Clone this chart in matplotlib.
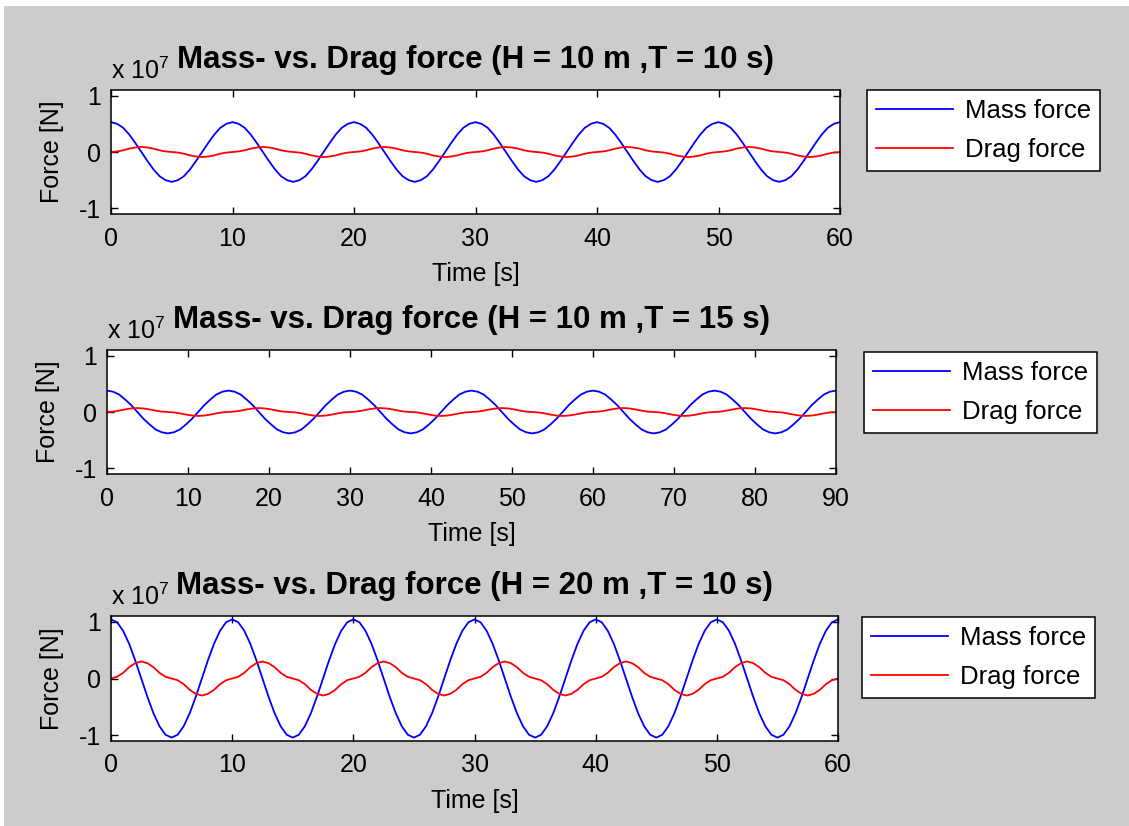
import numpy as np
import matplotlib
matplotlib.use("Agg")
import matplotlib.pyplot as plt
from matplotlib.patches import Rectangle

plt.rcParams["font.family"] = ["Liberation Sans", "DejaVu Sans"]
plt.rcParams["mathtext.fontset"] = "custom"
plt.rcParams["mathtext.rm"] = "Liberation Sans"
plt.rcParams["axes.unicode_minus"] = False

# forces in units of 1e7 N
time1 = np.linspace(0, 60, 121)
mass1 = [
    0.53, 0.50, 0.43, 0.31, 0.16, 0.00, -0.16, -0.31, -0.43, -0.50, -0.53, -0.50, -0.43, -0.31, -0.16, 0.00, 0.16, 0.31, 0.43, 0.50,
    0.53, 0.50, 0.43, 0.31, 0.16, 0.00, -0.16, -0.31, -0.43, -0.50, -0.53, -0.50, -0.43, -0.31, -0.16, 0.00, 0.16, 0.31, 0.43, 0.50,
    0.53, 0.50, 0.43, 0.31, 0.16, 0.00, -0.16, -0.31, -0.43, -0.50, -0.53, -0.50, -0.43, -0.31, -0.16, 0.00, 0.16, 0.31, 0.43, 0.50,
    0.53, 0.50, 0.43, 0.31, 0.16, 0.00, -0.16, -0.31, -0.43, -0.50, -0.53, -0.50, -0.43, -0.31, -0.16, 0.00, 0.16, 0.31, 0.43, 0.50,
    0.53, 0.50, 0.43, 0.31, 0.16, 0.00, -0.16, -0.31, -0.43, -0.50, -0.53, -0.50, -0.43, -0.31, -0.16, 0.00, 0.16, 0.31, 0.43, 0.50,
    0.53, 0.50, 0.43, 0.31, 0.16, 0.00, -0.16, -0.31, -0.43, -0.50, -0.53, -0.50, -0.43, -0.31, -0.16, 0.00, 0.16, 0.31, 0.43, 0.50,
    0.53]
drag1 = [
    0.00, 0.01, 0.03, 0.06, 0.08, 0.09, 0.08, 0.06, 0.03, 0.01, 0.00, -0.01, -0.03, -0.06, -0.08, -0.09, -0.08, -0.06, -0.03, -0.01,
    0.00, 0.01, 0.03, 0.06, 0.08, 0.09, 0.08, 0.06, 0.03, 0.01, 0.00, -0.01, -0.03, -0.06, -0.08, -0.09, -0.08, -0.06, -0.03, -0.01,
    0.00, 0.01, 0.03, 0.06, 0.08, 0.09, 0.08, 0.06, 0.03, 0.01, 0.00, -0.01, -0.03, -0.06, -0.08, -0.09, -0.08, -0.06, -0.03, -0.01,
    0.00, 0.01, 0.03, 0.06, 0.08, 0.09, 0.08, 0.06, 0.03, 0.01, 0.00, -0.01, -0.03, -0.06, -0.08, -0.09, -0.08, -0.06, -0.03, -0.01,
    0.00, 0.01, 0.03, 0.06, 0.08, 0.09, 0.08, 0.06, 0.03, 0.01, 0.00, -0.01, -0.03, -0.06, -0.08, -0.09, -0.08, -0.06, -0.03, -0.01,
    0.00, 0.01, 0.03, 0.06, 0.08, 0.09, 0.08, 0.06, 0.03, 0.01, 0.00, -0.01, -0.03, -0.06, -0.08, -0.09, -0.08, -0.06, -0.03, -0.01,
    0.00]

time2 = np.linspace(0, 90, 121)
mass2 = [
    0.38, 0.36, 0.31, 0.22, 0.12, 0.00, -0.12, -0.22, -0.31, -0.36, -0.38, -0.36, -0.31, -0.22, -0.12, 0.00, 0.12, 0.22, 0.31, 0.36,
    0.38, 0.36, 0.31, 0.22, 0.12, 0.00, -0.12, -0.22, -0.31, -0.36, -0.38, -0.36, -0.31, -0.22, -0.12, 0.00, 0.12, 0.22, 0.31, 0.36,
    0.38, 0.36, 0.31, 0.22, 0.12, 0.00, -0.12, -0.22, -0.31, -0.36, -0.38, -0.36, -0.31, -0.22, -0.12, 0.00, 0.12, 0.22, 0.31, 0.36,
    0.38, 0.36, 0.31, 0.22, 0.12, 0.00, -0.12, -0.22, -0.31, -0.36, -0.38, -0.36, -0.31, -0.22, -0.12, 0.00, 0.12, 0.22, 0.31, 0.36,
    0.38, 0.36, 0.31, 0.22, 0.12, 0.00, -0.12, -0.22, -0.31, -0.36, -0.38, -0.36, -0.31, -0.22, -0.12, 0.00, 0.12, 0.22, 0.31, 0.36,
    0.38, 0.36, 0.31, 0.22, 0.12, 0.00, -0.12, -0.22, -0.31, -0.36, -0.38, -0.36, -0.31, -0.22, -0.12, 0.00, 0.12, 0.22, 0.31, 0.36,
    0.38]
drag2 = [
    0.000, 0.007, 0.024, 0.046, 0.063, 0.070, 0.063, 0.046, 0.024, 0.007, 0.000, -0.007, -0.024, -0.046, -0.063, -0.070, -0.063, -0.046, -0.024, -0.007,
    0.000, 0.007, 0.024, 0.046, 0.063, 0.070, 0.063, 0.046, 0.024, 0.007, 0.000, -0.007, -0.024, -0.046, -0.063, -0.070, -0.063, -0.046, -0.024, -0.007,
    0.000, 0.007, 0.024, 0.046, 0.063, 0.070, 0.063, 0.046, 0.024, 0.007, 0.000, -0.007, -0.024, -0.046, -0.063, -0.070, -0.063, -0.046, -0.024, -0.007,
    0.000, 0.007, 0.024, 0.046, 0.063, 0.070, 0.063, 0.046, 0.024, 0.007, 0.000, -0.007, -0.024, -0.046, -0.063, -0.070, -0.063, -0.046, -0.024, -0.007,
    0.000, 0.007, 0.024, 0.046, 0.063, 0.070, 0.063, 0.046, 0.024, 0.007, 0.000, -0.007, -0.024, -0.046, -0.063, -0.070, -0.063, -0.046, -0.024, -0.007,
    0.000, 0.007, 0.024, 0.046, 0.063, 0.070, 0.063, 0.046, 0.024, 0.007, 0.000, -0.007, -0.024, -0.046, -0.063, -0.070, -0.063, -0.046, -0.024, -0.007,
    0.000]

time3 = np.linspace(0, 60, 121)
mass3 = [
    1.04, 0.99, 0.84, 0.61, 0.32, 0.00, -0.32, -0.61, -0.84, -0.99, -1.04, -0.99, -0.84, -0.61, -0.32, 0.00, 0.32, 0.61, 0.84, 0.99,
    1.04, 0.99, 0.84, 0.61, 0.32, 0.00, -0.32, -0.61, -0.84, -0.99, -1.04, -0.99, -0.84, -0.61, -0.32, 0.00, 0.32, 0.61, 0.84, 0.99,
    1.04, 0.99, 0.84, 0.61, 0.32, 0.00, -0.32, -0.61, -0.84, -0.99, -1.04, -0.99, -0.84, -0.61, -0.32, 0.00, 0.32, 0.61, 0.84, 0.99,
    1.04, 0.99, 0.84, 0.61, 0.32, 0.00, -0.32, -0.61, -0.84, -0.99, -1.04, -0.99, -0.84, -0.61, -0.32, 0.00, 0.32, 0.61, 0.84, 0.99,
    1.04, 0.99, 0.84, 0.61, 0.32, 0.00, -0.32, -0.61, -0.84, -0.99, -1.04, -0.99, -0.84, -0.61, -0.32, 0.00, 0.32, 0.61, 0.84, 0.99,
    1.04, 0.99, 0.84, 0.61, 0.32, 0.00, -0.32, -0.61, -0.84, -0.99, -1.04, -0.99, -0.84, -0.61, -0.32, 0.00, 0.32, 0.61, 0.84, 0.99,
    1.04]
drag3 = [
    0.00, 0.03, 0.10, 0.20, 0.27, 0.30, 0.27, 0.20, 0.10, 0.03, 0.00, -0.03, -0.10, -0.20, -0.27, -0.30, -0.27, -0.20, -0.10, -0.03,
    0.00, 0.03, 0.10, 0.20, 0.27, 0.30, 0.27, 0.20, 0.10, 0.03, 0.00, -0.03, -0.10, -0.20, -0.27, -0.30, -0.27, -0.20, -0.10, -0.03,
    0.00, 0.03, 0.10, 0.20, 0.27, 0.30, 0.27, 0.20, 0.10, 0.03, 0.00, -0.03, -0.10, -0.20, -0.27, -0.30, -0.27, -0.20, -0.10, -0.03,
    0.00, 0.03, 0.10, 0.20, 0.27, 0.30, 0.27, 0.20, 0.10, 0.03, 0.00, -0.03, -0.10, -0.20, -0.27, -0.30, -0.27, -0.20, -0.10, -0.03,
    0.00, 0.03, 0.10, 0.20, 0.27, 0.30, 0.27, 0.20, 0.10, 0.03, 0.00, -0.03, -0.10, -0.20, -0.27, -0.30, -0.27, -0.20, -0.10, -0.03,
    0.00, 0.03, 0.10, 0.20, 0.27, 0.30, 0.27, 0.20, 0.10, 0.03, 0.00, -0.03, -0.10, -0.20, -0.27, -0.30, -0.27, -0.20, -0.10, -0.03,
    0.00]

titles = ["Mass- vs. Drag force (H = 10 m ,T = 10 s)",
          "Mass- vs. Drag force (H = 10 m ,T = 15 s)",
          "Mass- vs. Drag force (H = 20 m ,T = 10 s)"]
xticks = [np.arange(0, 61, 10), np.arange(0, 91, 10), np.arange(0, 61, 10)]
yticks = [-1, 0, 1]

W, H = 1129, 826
fig = plt.figure(figsize=(W / 100, H / 100), dpi=100, facecolor="white")
fig.patches.append(Rectangle((4 / W, 0), 1, 1 - 6 / H, transform=fig.transFigure,
                             facecolor="#cccccc", edgecolor="none", zorder=-10))

# axes boxes (left, top, right, bottom) in pixels, legend top-left in pixels
boxes = [(111, 90, 840, 214), (107, 350, 836, 474), (111, 616, 838, 741)]
leg_pos = [(867, 90), (864, 352), (862, 617)]

panels = [(time1, mass1, drag1), (time2, mass2, drag2), (time3, mass3, drag3)]
for i, (t, m, d) in enumerate(panels):
    l, tp, r, b = boxes[i]
    ax = fig.add_axes([l / W, 1 - b / H, (r - l) / W, (b - tp) / H])
    ax.plot(t, m, color="#0000ff", lw=1.3, label="Mass force")
    ax.plot(t, d, color="#ff0000", lw=1.3, label="Drag force")
    ax.set_xlim(t[0], t[-1])
    ax.set_ylim(-1.1, 1.1)
    ax.set_xticks(xticks[i])
    ax.set_yticks(yticks)
    ax.tick_params(direction="in", top=True, right=True, length=5, width=1,
                   labelsize=18, pad=7)
    ax.tick_params(axis="x", pad=9)
    for s in ax.spines.values():
        s.set_linewidth(1.1)
    ax.set_xlabel("Time [s]", fontsize=18, labelpad=8)
    ax.set_ylabel("Force [N]", fontsize=18, labelpad=11)
    ax.set_title(titles[i], fontsize=22.5, fontweight="bold", pad=16)
    ax.text(0, 1.05, r"x 10$^{\mathregular{7}}$", transform=ax.transAxes,
            fontsize=18, ha="left", va="bottom")
    lx, ly = leg_pos[i]
    leg = ax.legend(loc="upper left", bbox_to_anchor=(lx / W, 1 - ly / H),
                    bbox_transform=fig.transFigure, borderaxespad=0,
                    fontsize=18.5, handlelength=3.0, handletextpad=0.45,
                    borderpad=0.35, labelspacing=0.6, fancybox=False,
                    framealpha=1, facecolor="white")
    leg.get_frame().set_edgecolor("black")
    leg.get_frame().set_linewidth(1.1)

fig.savefig("out.png", dpi=100, facecolor=fig.get_facecolor())
